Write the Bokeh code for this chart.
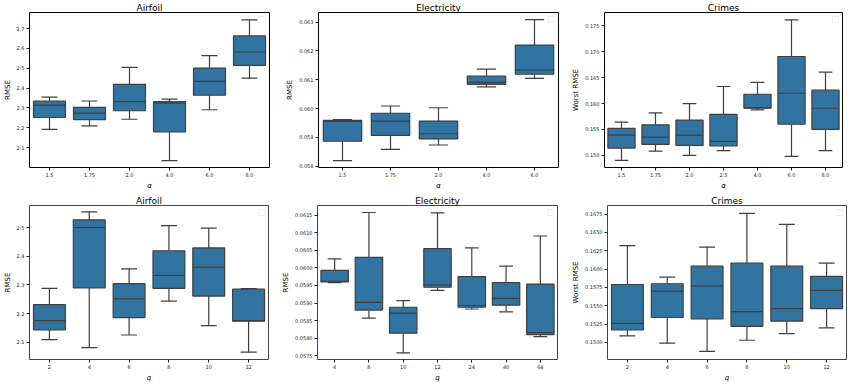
from bokeh.plotting import figure
from bokeh.layouts import column, row
from bokeh.models import ColumnDataSource, FixedTicker, PrintfTickFormatter, Range1d, BoxAnnotation
from bokeh.transform import dodge
from bokeh.embed import file_html
from bokeh.resources import INLINE

# ---------------- data: top row (alpha) ----------------
alpha_airfoil = ["1.5", "1.75", "2.0", "4.0", "6.0", "8.0"]
airfoil_a_lo  = [2.192, 2.210, 2.243, 2.035, 2.291, 2.450]
airfoil_a_q1  = [2.252, 2.241, 2.286, 2.180, 2.364, 2.515]
airfoil_a_med = [2.314, 2.274, 2.332, 2.324, 2.434, 2.582]
airfoil_a_q3  = [2.335, 2.303, 2.419, 2.332, 2.501, 2.663]
airfoil_a_hi  = [2.355, 2.335, 2.505, 2.345, 2.564, 2.744]

alpha_elec = ["1.5", "1.75", "2.0", "4.0", "6.0"]
elec_a_lo  = [0.05820, 0.05859, 0.05874, 0.06075, 0.06105]
elec_a_q1  = [0.05887, 0.05907, 0.05895, 0.06084, 0.06119]
elec_a_med = [0.05956, 0.05957, 0.05913, 0.06091, 0.06134]
elec_a_q3  = [0.05959, 0.05984, 0.05957, 0.06113, 0.06220]
elec_a_hi  = [0.05962, 0.06009, 0.06003, 0.06137, 0.06308]

alpha_crimes = ["1.5", "1.75", "2.0", "2.5", "4.0", "6.0", "8.0"]
crimes_a_lo  = [0.1490, 0.1508, 0.1500, 0.1509, 0.1588, 0.1498, 0.1509]
crimes_a_q1  = [0.1514, 0.1521, 0.1519, 0.1518, 0.1591, 0.1560, 0.1550]
crimes_a_med = [0.1539, 0.1535, 0.1539, 0.1527, 0.1592, 0.1620, 0.1591]
crimes_a_q3  = [0.1552, 0.1559, 0.1568, 0.1579, 0.1618, 0.1691, 0.1626]
crimes_a_hi  = [0.1564, 0.1582, 0.1600, 0.1633, 0.1641, 0.1762, 0.1661]

# ---------------- data: bottom row (q) ----------------
q_airfoil = ["2", "4", "6", "8", "10", "12"]
airfoil_q_lo  = [2.109, 2.081, 2.125, 2.243, 2.158, 2.065]
airfoil_q_q1  = [2.143, 2.289, 2.186, 2.288, 2.261, 2.173]
airfoil_q_med = [2.175, 2.500, 2.251, 2.333, 2.362, 2.175]
airfoil_q_q3  = [2.231, 2.527, 2.304, 2.419, 2.429, 2.285]
airfoil_q_hi  = [2.288, 2.555, 2.356, 2.507, 2.498, 2.287]

q_elec = ["4", "8", "10", "12", "24", "40", "64"]
elec_q_lo  = [0.05958, 0.05857, 0.05758, 0.05936, 0.05883, 0.05875, 0.05804]
elec_q_q1  = [0.05960, 0.05880, 0.05814, 0.05945, 0.05888, 0.05894, 0.05810]
elec_q_med = [0.05962, 0.05902, 0.05871, 0.05952, 0.05893, 0.05913, 0.05816]
elec_q_q3  = [0.05993, 0.06030, 0.05888, 0.06055, 0.05975, 0.05958, 0.05954]
elec_q_hi  = [0.06026, 0.06158, 0.05907, 0.06157, 0.06057, 0.06005, 0.06091]

q_crimes = ["2", "4", "6", "8", "10", "12"]
crimes_q_lo  = [0.1509, 0.1499, 0.1488, 0.1503, 0.1512, 0.1520]
crimes_q_q1  = [0.1517, 0.1534, 0.1532, 0.1522, 0.1529, 0.1546]
crimes_q_med = [0.1526, 0.1570, 0.1577, 0.1542, 0.1546, 0.1571]
crimes_q_q3  = [0.1579, 0.1580, 0.1604, 0.1608, 0.1604, 0.1590]
crimes_q_hi  = [0.1632, 0.1589, 0.1630, 0.1676, 0.1661, 0.1608]

# tick values
ticks_airfoil_a = [2.1, 2.2, 2.3, 2.4, 2.5, 2.6, 2.7]
ticks_elec_a = [0.058, 0.059, 0.060, 0.061, 0.062, 0.063]
ticks_crimes_a = [0.150, 0.155, 0.160, 0.165, 0.170, 0.175]
ticks_airfoil_q = [2.1, 2.2, 2.3, 2.4, 2.5]
ticks_elec_q = [0.0575, 0.0580, 0.0585, 0.0590, 0.0595, 0.0600, 0.0605, 0.0610, 0.0615]
ticks_crimes_q = [0.1500, 0.1525, 0.1550, 0.1575, 0.1600, 0.1625, 0.1650, 0.1675]

FONT = "DejaVu Sans"
BOX = "#3274a1"
LINE = "#3f3f3f"


def panel(title, cats, lo, q1, med, q3, hi, yr, ticks, fmt, xlabel, ylabel,
          fw, fh, left, right, top, bottom, frame_color):
    p = figure(x_range=cats, y_range=Range1d(*yr), frame_width=fw, frame_height=fh,
               min_border_left=left, min_border_right=right, min_border_top=top,
               min_border_bottom=bottom, output_backend="svg", toolbar_location=None,
               title=title, background_fill_color="white", border_fill_color="white")
    p.title.text_font = FONT
    p.title.text_font_size = "9px"
    p.title.text_font_style = "normal"
    p.title.align = "center"
    p.title.standoff = 0
    p.title.text_color = "black"
    for ax in (p.xaxis[0], p.yaxis[0]):
        ax.axis_label_text_font = FONT
        ax.axis_label_text_font_size = "7px"
        ax.axis_label_standoff = 2
        ax.axis_label_text_color = "black"
        ax.major_label_text_font = FONT
        ax.major_label_text_font_size = "5px"
        ax.major_label_text_color = "#222222"
        ax.major_label_standoff = 2
        ax.major_tick_out = 3
        ax.major_tick_in = 0
        ax.major_tick_line_color = "#222222"
        ax.minor_tick_line_color = None
        ax.axis_line_color = None
    p.xaxis.axis_label = xlabel
    p.xaxis.axis_label_text_font_style = "italic"
    p.yaxis.axis_label = ylabel
    p.yaxis.axis_label_text_font_style = "normal"
    p.yaxis.ticker = FixedTicker(ticks=ticks)
    p.yaxis.formatter = PrintfTickFormatter(format=fmt)
    p.xgrid.visible = False
    p.ygrid.visible = False
    p.outline_line_color = frame_color
    p.outline_line_width = 1
    p.outline_line_alpha = 1

    src = ColumnDataSource(dict(x=cats, lo=lo, q1=q1, med=med, q3=q3, hi=hi))
    p.segment(x0="x", x1="x", y0="q3", y1="hi", source=src, line_color=LINE, line_width=1.2)
    p.segment(x0="x", x1="x", y0="lo", y1="q1", source=src, line_color=LINE, line_width=1.2)
    p.vbar(x="x", width=0.8, bottom="q1", top="q3", source=src,
           fill_color=BOX, line_color=LINE, line_width=1.2)
    p.segment(x0=dodge("x", -0.4, range=p.x_range), x1=dodge("x", 0.4, range=p.x_range),
              y0="med", y1="med", source=src, line_color=LINE, line_width=1.2)
    for col in ("lo", "hi"):
        p.segment(x0=dodge("x", -0.2, range=p.x_range), x1=dodge("x", 0.2, range=p.x_range),
                  y0=col, y1=col, source=src, line_color=LINE, line_width=1.2)
    # empty legend frame at the top right corner (screen units: frame-relative, y upward)
    p.add_layout(BoxAnnotation(left=fw - 10, right=fw - 4, top=fh - 4, bottom=fh - 10,
                               left_units="screen", right_units="screen",
                               top_units="screen", bottom_units="screen",
                               fill_color="white", fill_alpha=1,
                               line_color="#cccccc", line_width=1))
    return p


p1 = panel("Airfoil", alpha_airfoil, airfoil_a_lo, airfoil_a_q1, airfoil_a_med, airfoil_a_q3,
           airfoil_a_hi, (2.0, 2.781), ticks_airfoil_a, "%.1f", "α", "RMSE",
           240, 155, 25, 14, 9, 20, "black")
p2 = panel("Electricity", alpha_elec, elec_a_lo, elec_a_q1, elec_a_med, elec_a_q3, elec_a_hi,
           (0.05796, 0.06333), ticks_elec_a, "%.3f", "α", "RMSE",
           240, 155, 34, 10, 9, 20, "black")
p3 = panel("Crimes", alpha_crimes, crimes_a_lo, crimes_a_q1, crimes_a_med, crimes_a_q3,
           crimes_a_hi, (0.14764, 0.17761), ticks_crimes_a, "%.3f", "α", "Worst RMSE",
           238, 155, 36, 2, 9, 20, "black")
p4 = panel("Airfoil", q_airfoil, airfoil_q_lo, airfoil_q_q1, airfoil_q_med, airfoil_q_q3,
           airfoil_q_hi, (2.0395, 2.577), ticks_airfoil_q, "%.1f", "q", "RMSE",
           239, 154, 24, 11, 13, 20, "#444444")
p5 = panel("Electricity", q_elec, elec_q_lo, elec_q_q1, elec_q_med, elec_q_q3, elec_q_hi,
           (0.05739, 0.06178), ticks_elec_q, "%.4f", "q", "RMSE",
           240, 154, 36, 12, 13, 20, "#444444")
p6 = panel("Crimes", q_crimes, crimes_q_lo, crimes_q_q1, crimes_q_med, crimes_q_q3,
           crimes_q_hi, (0.14768, 0.16866), ticks_crimes_q, "%.4f", "q", "Worst RMSE",
           239, 154, 36, 2, 13, 20, "#444444")

layout = column(row(p1, p2, p3), row(p4, p5, p6))
open("out.html", "w").write(file_html(layout, INLINE))
